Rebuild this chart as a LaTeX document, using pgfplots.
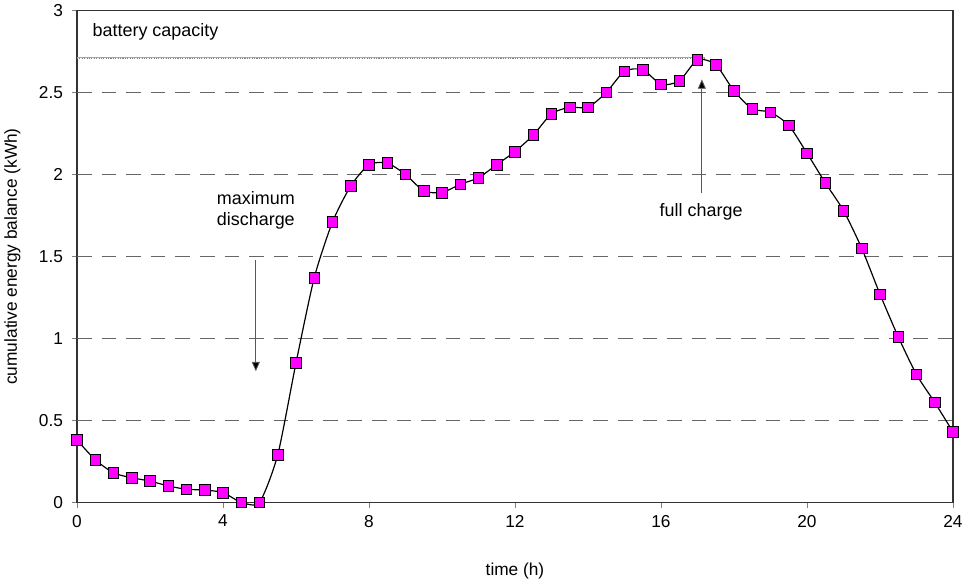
\documentclass[border=0pt]{standalone}
\usepackage{pgfplots}
\pgfplotsset{compat=1.18}
\usetikzlibrary{arrows.meta}
\usepackage{fontspec}
\setmainfont{Liberation Sans}
\definecolor{mag}{RGB}{255,0,255}
\begin{document}
\begin{tikzpicture}
\begin{axis}[
  scale only axis,
  width=659pt, height=370pt,
  xmin=0, xmax=24, ymin=0, ymax=3,
  xtick={0,4,...,24}, ytick={0,0.5,...,3},
  yticklabels={0,0.5,1,1.5,2,2.5,3},
  tick align=outside, tick pos=left,
  major tick length=4pt,
  /pgf/number format/assume math mode=true,
  tick label style={font=\fontsize{13}{15}\selectfont},
  yticklabel style={xshift=-3pt},
  xticklabel style={yshift=-2pt},
  label style={font=\fontsize{13}{15}\selectfont},
  xlabel={time (h)}, ylabel={cumulative energy balance (kWh)},
  xlabel style={yshift=-20pt},
  ylabel style={yshift=7pt},
  axis line style={black!80, line width=0.8pt},
  clip=false,
]
\foreach \g in {0.5,1,1.5,2,2.5}{
  \edef\tmp{\noexpand\draw[gray!80!black, line width=0.7pt, dash pattern=on 11pt off 7.5pt] (axis cs:0,\g) -- (axis cs:24,\g);}
  \tmp
}
\addplot[gray, line width=0.8pt, densely dotted, forget plot] coordinates {(0,2.71) (17.2,2.71)};
\addplot[gray!70, line width=0.8pt, forget plot] coordinates {(0,2.715) (17.2,2.715)};
\addplot[black, line width=0.9pt, smooth, tension=0.4,
  mark=square*, mark size=4pt,
  mark options={fill=mag, draw=black, line width=0.5pt, solid}]
coordinates {
(0,0.38) (0.5,0.26) (1,0.18) (1.5,0.15) (2,0.13) (2.5,0.10) (3,0.08) (3.5,0.075) (4,0.06)
(4.5,0.0) (5,0.0) (5.5,0.29) (6,0.85) (6.5,1.37) (7,1.71) (7.5,1.93) (8,2.06) (8.5,2.07)
(9,2.00) (9.5,1.90) (10,1.89) (10.5,1.94) (11,1.98) (11.5,2.06) (12,2.14) (12.5,2.24)
(13,2.37) (13.5,2.41) (14,2.41) (14.5,2.50) (15,2.63) (15.5,2.64) (16,2.55) (16.5,2.57)
(17,2.70) (17.5,2.67) (18,2.51) (18.5,2.40) (19,2.38) (19.5,2.30) (20,2.13) (20.5,1.95)
(21,1.78) (21.5,1.55) (22,1.27) (22.5,1.01) (23,0.78) (23.5,0.61) (24,0.43)
};
\node[anchor=west, font=\fontsize{13.5}{15}\selectfont] at (axis cs:0.3,2.87) {battery capacity};
\node[align=center, font=\fontsize{13.5}{16}\selectfont] at (axis cs:4.9,1.78) {maximum\\discharge};
\draw[gray!70!black, line width=0.6pt, -{Triangle[width=6pt,length=7pt,fill=black]}] (axis cs:4.9,1.48) -- (axis cs:4.9,0.80);
\node[font=\fontsize{13.5}{15}\selectfont] at (axis cs:17.1,1.77) {full charge};
\draw[gray!70!black, line width=0.6pt, -{Triangle[width=6pt,length=7pt,fill=black]}] (axis cs:17.12,1.89) -- (axis cs:17.12,2.58);
\end{axis}
\end{tikzpicture}
\end{document}
